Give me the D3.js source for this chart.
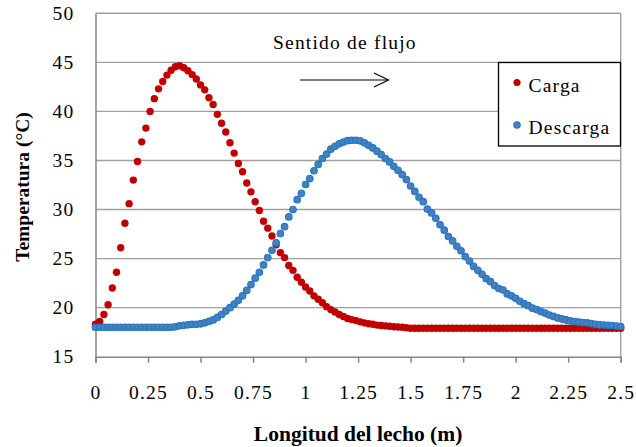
<!DOCTYPE html>
<html>
<head>
<meta charset="utf-8">
<script src="https://cdn.jsdelivr.net/npm/d3@7"></script>
<style>
  html, body { margin: 0; padding: 0; background: #fff; }
  svg { display: block; }
  text { font-family: "Liberation Serif", "Times New Roman", serif; fill: #000; }
</style>
</head>
<body>
<svg id="chart" width="636" height="447"></svg>
<script>
// ---- data ----
const xs = [
  0.00, 0.02, 0.04, 0.06, 0.08, 0.10, 0.12, 0.14, 0.16, 0.18,
  0.20, 0.22, 0.24, 0.26, 0.28, 0.30, 0.32, 0.34, 0.36, 0.38,
  0.40, 0.42, 0.44, 0.46, 0.48, 0.50, 0.52, 0.54, 0.56, 0.58,
  0.60, 0.62, 0.64, 0.66, 0.68, 0.70, 0.72, 0.74, 0.76, 0.78,
  0.80, 0.82, 0.84, 0.86, 0.88, 0.90, 0.92, 0.94, 0.96, 0.98,
  1.00, 1.02, 1.04, 1.06, 1.08, 1.10, 1.12, 1.14, 1.16, 1.18,
  1.20, 1.22, 1.24, 1.26, 1.28, 1.30, 1.32, 1.34, 1.36, 1.38,
  1.40, 1.42, 1.44, 1.46, 1.48, 1.50, 1.52, 1.54, 1.56, 1.58,
  1.60, 1.62, 1.64, 1.66, 1.68, 1.70, 1.72, 1.74, 1.76, 1.78,
  1.80, 1.82, 1.84, 1.86, 1.88, 1.90, 1.92, 1.94, 1.96, 1.98,
  2.00, 2.02, 2.04, 2.06, 2.08, 2.10, 2.12, 2.14, 2.16, 2.18,
  2.20, 2.22, 2.24, 2.26, 2.28, 2.30, 2.32, 2.34, 2.36, 2.38,
  2.40, 2.42, 2.44, 2.46, 2.48, 2.50
];

const carga = [
  18.3, 18.6, 19.3, 20.3, 22.0, 23.6, 26.1, 28.6, 30.6, 33.0,
  34.9, 36.9, 38.3, 40.0, 41.3, 42.3, 43.05, 43.7, 44.2, 44.55,
  44.65, 44.45, 44.15, 43.75, 43.3, 42.7, 42.2, 41.4, 40.7, 39.7,
  38.8, 37.9, 36.8, 35.75, 34.7, 33.85, 32.7, 31.8, 30.8, 29.9,
  28.8, 28.1, 27.3, 26.4, 25.6, 25.1, 24.3, 23.8, 23.1, 22.6,
  22.1, 21.7, 21.2, 20.85, 20.5, 20.1, 19.8, 19.55, 19.3, 19.1,
  18.9, 18.78, 18.68, 18.55, 18.45, 18.36, 18.3, 18.22, 18.18, 18.14,
  18.1, 18.06, 18.03, 18.0, 17.95, 17.9, 17.9, 17.9, 17.9, 17.9,
  17.9, 17.9, 17.9, 17.9, 17.9, 17.9, 17.9, 17.9, 17.9, 17.9,
  17.9, 17.9, 17.9, 17.9, 17.9, 17.9, 17.9, 17.9, 17.9, 17.9,
  17.9, 17.9, 17.9, 17.9, 17.9, 17.9, 17.9, 17.9, 17.9, 17.9,
  17.9, 17.9, 17.9, 17.9, 17.9, 17.9, 17.9, 17.9, 17.9, 17.9,
  17.9, 17.9, 17.9, 17.9, 17.9, 17.9
];

const descarga = [
  18.0, 18.0, 18.0, 18.0, 18.0, 18.0, 18.0, 18.0, 18.0, 18.0,
  18.0, 18.0, 18.0, 18.0, 18.0, 18.0, 18.0, 18.0, 18.0, 18.05,
  18.15, 18.2, 18.25, 18.3, 18.3, 18.35, 18.45, 18.6, 18.75, 19.0,
  19.3, 19.65, 20.0, 20.35, 20.75, 21.2, 21.75, 22.35, 23.0, 23.6,
  24.35, 25.1, 25.85, 26.6, 27.55, 28.25, 29.25, 30.0, 31.0, 31.65,
  32.55, 33.15, 33.95, 34.6, 35.2, 35.65, 36.15, 36.45, 36.7, 36.88,
  37.02, 37.06, 37.06, 37.0, 36.8, 36.55, 36.28, 35.95, 35.6, 35.2,
  34.85, 34.4, 34.0, 33.55, 33.05, 32.4, 31.85, 31.25, 30.8, 30.05,
  29.65, 29.1, 28.45, 27.9, 27.25, 26.8, 26.25, 25.8, 25.2, 24.75,
  24.2, 23.8, 23.4, 22.95, 22.65, 22.25, 21.95, 21.8, 21.4, 21.2,
  20.95, 20.65, 20.4, 20.2, 19.95, 19.8, 19.6, 19.45, 19.25, 19.1,
  18.95, 18.85, 18.75, 18.65, 18.58, 18.52, 18.48, 18.45, 18.38, 18.3,
  18.25, 18.22, 18.2, 18.18, 18.12, 18.08
];

const xTicks = [0, 0.25, 0.5, 0.75, 1, 1.25, 1.5, 1.75, 2, 2.25, 2.5];
const xTickLabels = ["0", "0.25", "0.5", "0.75", "1", "1.25", "1.5", "1.75", "2", "2.25", "2.5"];
const yTicks = [15, 20, 25, 30, 35, 40, 45, 50];
const yTickLabels = ["15", "20", "25", "30", "35", "40", "45", "50"];
const seriesNames = ["Carga", "Descarga"];

// ---- layout ----
const svg = d3.select("#chart");
const L = 95.5, R = 620.7, T = 13.3, B = 356.7;
const x = d3.scaleLinear().domain([0, 2.5]).range([L, R]);
const y = d3.scaleLinear().domain([15, 50]).range([B, T]);

const gridColor = "#a0a0a0";
const axisColor = "#868686";
const redFill = "#c00000";
const blueFill = "#4a80b8";
const blueStroke = "#1f77c9";
const serif = '"Liberation Serif", "Times New Roman", serif';

// gridlines
svg.append("g").selectAll("line").data(yTicks.filter(v => v > 15 && v < 50)).join("line")
  .attr("x1", L).attr("x2", R)
  .attr("y1", d => y(d)).attr("y2", d => y(d))
  .attr("stroke", gridColor).attr("stroke-width", 1.4);

// frame top & right
svg.append("line").attr("x1", L).attr("x2", R).attr("y1", T).attr("y2", T)
  .attr("stroke", gridColor).attr("stroke-width", 1.4);
svg.append("line").attr("x1", R).attr("x2", R).attr("y1", T).attr("y2", B)
  .attr("stroke", gridColor).attr("stroke-width", 1.4);

// x axis
const xAxis = d3.axisBottom(x).tickValues(xTicks)
  .tickFormat((d, i) => xTickLabels[i]).tickSize(6).tickPadding(22);
const gx = svg.append("g").attr("transform", `translate(0,${B})`).call(xAxis);
gx.select(".domain").attr("stroke", axisColor).attr("stroke-width", 1.5);
gx.selectAll(".tick line").attr("stroke", axisColor).attr("stroke-width", 1.5);
gx.selectAll(".tick text")
  .style("font-family", serif)
  .style("font-size", "19.5px").style("letter-spacing", "1.2px").attr("fill", "#000");

// y axis
const yAxis = d3.axisLeft(y).tickValues(yTicks)
  .tickFormat((d, i) => yTickLabels[i]).tickSize(0).tickPadding(21);
const gy = svg.append("g").attr("transform", `translate(${L},0)`).call(yAxis);
gy.select(".domain").attr("stroke", axisColor).attr("stroke-width", 1.5);
gy.selectAll(".tick text")
  .style("font-family", serif)
  .style("font-size", "19.5px").style("letter-spacing", "1.2px").attr("fill", "#000");

// series
const pts = xs.map((v, i) => ({ x: v, c: carga[i], d: descarga[i] }));
svg.append("g").selectAll("circle").data(pts).join("circle")
  .attr("cx", p => x(p.x)).attr("cy", p => y(p.c)).attr("r", 3.7)
  .attr("fill", redFill);
svg.append("g").selectAll("circle").data(pts).join("circle")
  .attr("cx", p => x(p.x)).attr("cy", p => y(p.d)).attr("r", 3.3)
  .attr("fill", blueFill).attr("stroke", blueStroke).attr("stroke-width", 1.1);

// axis titles
svg.append("text").attr("x", (L + R) / 2).attr("y", 440.5)
  .attr("text-anchor", "middle").style("font-weight", "bold").style("font-size", "21.5px")
  .text("Longitud del lecho (m)");
svg.append("text").attr("transform", `translate(29,187) rotate(-90)`)
  .attr("text-anchor", "middle").style("font-weight", "bold").style("font-size", "19.5px")
  .text("Temperatura (°C)");

// annotation
svg.append("text").attr("x", 273).attr("y", 49)
  .style("font-size", "19.5px").style("letter-spacing", "1.2px")
  .text("Sentido de flujo");
const ay = 80;
svg.append("line").attr("x1", 300).attr("x2", 388.5).attr("y1", ay).attr("y2", ay)
  .attr("stroke", "#000").attr("stroke-width", 1.2);
svg.append("path").attr("d", `M374,${ay - 7} L388.5,${ay} L374,${ay + 7}`)
  .attr("fill", "none").attr("stroke", "#000").attr("stroke-width", 1.2);

// legend
const lg = svg.append("g");
lg.append("rect").attr("x", 498.5).attr("y", 62.5).attr("width", 122).attr("height", 83.5)
  .attr("fill", "#fff").attr("stroke", "#000").attr("stroke-width", 1.3);
const legendItems = [
  { name: seriesNames[0], y: 82.5, fill: redFill, stroke: "none" },
  { name: seriesNames[1], y: 125, fill: blueFill, stroke: blueStroke }
];
legendItems.forEach(it => {
  lg.append("circle").attr("cx", 517).attr("cy", it.y).attr("r", it.stroke === "none" ? 3.6 : 3.2)
    .attr("fill", it.fill).attr("stroke", it.stroke).attr("stroke-width", 1.1);
  lg.append("text").attr("x", 528.5).attr("y", it.y + 9)
    .style("font-size", "19.5px").style("letter-spacing", "1.2px")
    .text(it.name);
});
</script>
</body>
</html>
